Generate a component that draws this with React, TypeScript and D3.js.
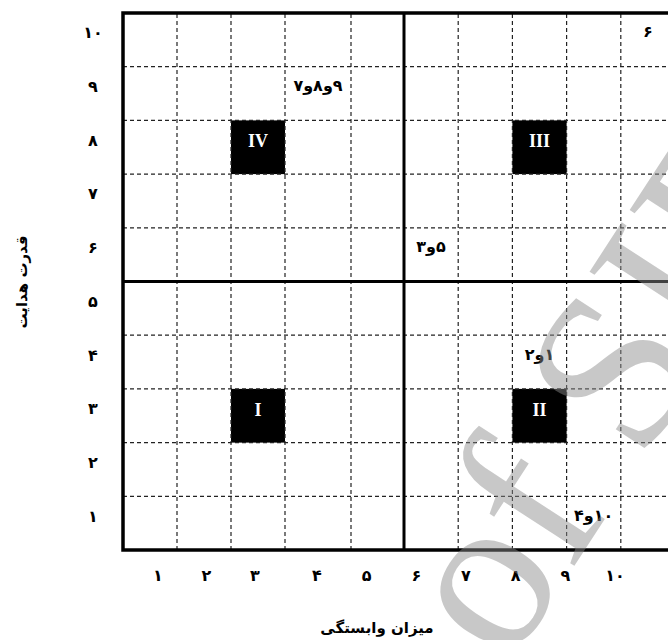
import { useEffect, useRef } from 'react';
import { select, scaleLinear, range } from 'd3';

// column / row numbers shown on the axes (Persian digits)
const xTickLabels = ['۱', '۲', '۳', '۴', '۵', '۶', '۷', '۸', '۹', '۱۰'];
const yTickLabels = ['۱', '۲', '۳', '۴', '۵', '۶', '۷', '۸', '۹', '۱۰'];

// variables placed in the grid: dependence (x), driving power (y)
const pointX = [4, 10, 6, 8, 9];
const pointY = [9, 10, 6, 4, 1];
const pointLabels = ['۹و۸و۷', '۶', '۵و۳', '۱و۲', '۱۰و۴'];

// quadrant markers
const quadX = [3, 8, 3, 8];
const quadY = [8, 8, 3, 3];
const quadLabels = ['IV', 'III', 'I', 'II'];

const xTitle = 'میزان وابستگی';
const yTitle = 'قدرت هدایت';

const App = () => {
  const ref = useRef<SVGSVGElement>(null);

  useEffect(() => {
    const width = 668;
    const height = 640;
    const svg = select(ref.current);
    svg.selectAll('*').remove();
    svg.attr('width', width).attr('height', height);

    // the source table has a slightly wider 4th column
    const x = scaleLinear().domain([0, 3, 4, 5, 10]).range([123, 285, 351, 404, 675]);
    const y = scaleLinear().domain([0, 10]).range([550, 13]);
    // axis numbers are not centred on the columns in the original
    const xLab = scaleLinear().domain([1, 3, 4, 10]).range([158, 255, 317, 615]);

    const persian = "'DejaVu Sans', sans-serif";

    svg.append('rect').attr('width', width).attr('height', height).attr('fill', '#fff');

    // quadrant boxes
    const quads = quadLabels.map((l, i) => ({ l, c: quadX[i], r: quadY[i] }));
    svg
      .selectAll('rect.quad')
      .data(quads)
      .enter()
      .append('rect')
      .attr('class', 'quad')
      .attr('x', (d) => x(d.c - 1))
      .attr('y', (d) => y(d.r))
      .attr('width', (d) => x(d.c) - x(d.c - 1))
      .attr('height', (d) => y(d.r - 1) - y(d.r))
      .attr('fill', '#000');

    // dashed grid
    const inner = range(1, 10).filter((v) => v !== 5);
    svg
      .selectAll('line.vg')
      .data(inner)
      .enter()
      .append('line')
      .attr('x1', (d) => x(d))
      .attr('x2', (d) => x(d))
      .attr('y1', y(0))
      .attr('y2', y(10))
      .attr('stroke', '#222')
      .attr('stroke-width', 1.2)
      .attr('stroke-dasharray', '4,3');
    svg
      .selectAll('line.hg')
      .data(inner)
      .enter()
      .append('line')
      .attr('x1', x(0))
      .attr('x2', x(10))
      .attr('y1', (d) => y(d))
      .attr('y2', (d) => y(d))
      .attr('stroke', '#222')
      .attr('stroke-width', 1.2)
      .attr('stroke-dasharray', '4,3');

    // frame and centre lines
    svg
      .append('rect')
      .attr('x', x(0))
      .attr('y', y(10))
      .attr('width', x(10) - x(0))
      .attr('height', y(0) - y(10))
      .attr('fill', 'none')
      .attr('stroke', '#000')
      .attr('stroke-width', 3.5);
    svg
      .append('line')
      .attr('x1', x(5))
      .attr('x2', x(5))
      .attr('y1', y(0))
      .attr('y2', y(10))
      .attr('stroke', '#000')
      .attr('stroke-width', 3);
    svg
      .append('line')
      .attr('x1', x(0))
      .attr('x2', x(10))
      .attr('y1', y(5))
      .attr('y2', y(5))
      .attr('stroke', '#000')
      .attr('stroke-width', 3);

    svg
      .selectAll('text.ql')
      .data(quads)
      .enter()
      .append('text')
      .attr('x', (d) => x(d.c - 0.5))
      .attr('y', (d) => y(d.r - 0.5) - 6)
      .attr('text-anchor', 'middle')
      .attr('dominant-baseline', 'central')
      .attr('fill', '#fff')
      .attr('font-family', "'Liberation Serif', serif")
      .attr('font-weight', 'bold')
      .attr('font-size', '18px')
      .text((d) => d.l);

    // point labels
    const pts = pointLabels.map((l, i) => ({ l, c: pointX[i], r: pointY[i] }));
    svg
      .selectAll('text.pt')
      .data(pts)
      .enter()
      .append('text')
      .attr('x', (d) => x(d.c - 0.5))
      .attr('y', (d) => y(d.r - 0.5) - 8)
      .attr('text-anchor', 'middle')
      .attr('dominant-baseline', 'central')
      .attr('direction', 'rtl')
      .attr('fill', '#000')
      .attr('font-family', persian)
      .attr('font-weight', 'bold')
      .attr('font-size', '16px')
      .text((d) => d.l);

    // y numbers
    svg
      .selectAll('text.yt')
      .data(yTickLabels)
      .enter()
      .append('text')
      .attr('x', 93)
      .attr('y', (d, i) => y(i + 0.5) - 7)
      .attr('text-anchor', 'middle')
      .attr('dominant-baseline', 'central')
      .attr('font-family', persian)
      .attr('font-weight', 'bold')
      .attr('font-size', '16px')
      .text((d) => d);

    // x numbers
    svg
      .selectAll('text.xt')
      .data(xTickLabels)
      .enter()
      .append('text')
      .attr('x', (d, i) => xLab(i + 1))
      .attr('y', 575)
      .attr('text-anchor', 'middle')
      .attr('dominant-baseline', 'central')
      .attr('font-family', persian)
      .attr('font-weight', 'bold')
      .attr('font-size', '16px')
      .text((d) => d);

    svg
      .append('text')
      .attr('x', 377)
      .attr('y', 628)
      .attr('text-anchor', 'middle')
      .attr('dominant-baseline', 'central')
      .attr('direction', 'rtl')
      .attr('font-family', persian)
      .attr('font-weight', 'bold')
      .attr('font-size', '15px')
      .text(xTitle);

    svg
      .append('text')
      .attr('transform', 'translate(22,282) rotate(-90)')
      .attr('text-anchor', 'middle')
      .attr('dominant-baseline', 'central')
      .attr('direction', 'rtl')
      .attr('font-family', persian)
      .attr('font-weight', 'bold')
      .attr('font-size', '15px')
      .text(yTitle);

    // watermark
    svg
      .append('text')
      .attr('transform', 'translate(508,668) rotate(-57)')
      .attr('font-family', "'Liberation Serif', serif")
      .attr('font-size', '225px')
      .attr('fill', '#8a8a8a')
      .attr('fill-opacity', 0.47)
      .text('of SID');
  }, []);

  return <svg ref={ref} style={{ position: 'absolute', left: 0, top: 0 }}></svg>;
};

export default App;
